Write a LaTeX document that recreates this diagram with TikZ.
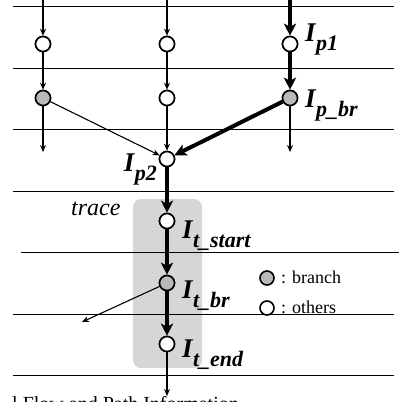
\documentclass[tikz,border=0pt]{standalone}
\usepackage{fontspec}
\setmainfont{Liberation Serif}
\usetikzlibrary{arrows.meta}
\newcommand{\lbl}[1]{{\fontsize{27}{27}\selectfont\bfseries\itshape I\kern0.3pt\raisebox{-9pt}{\fontsize{22}{22}\selectfont #1}}}
\begin{document}
\begin{tikzpicture}[x=1pt,y=-1pt,
  hline/.style={line width=0.9pt},
  pt/.style={circle,draw,line width=1.6pt,fill=white,minimum size=15pt,inner sep=0pt},
  br/.style={pt,fill=gray!55},
  thin/.style={line width=1.1pt,-{Stealth[length=7pt,width=6pt]}},
  thick/.style={line width=4pt,-{Stealth[length=12pt,width=12pt,inset=3pt]}},
  lab/.style={anchor=base west,inner sep=0pt},
  leg/.style={anchor=base west,inner sep=0pt,font=\fontsize{18}{18}\selectfont}]
\useasboundingbox (0,0) rectangle (399,402);
% gray trace box
\fill[gray!32,rounded corners=8pt] (133,199) rectangle (202,368);
% horizontal lines
\foreach \yy in {6,68,129,191,314,375} \draw[hline] (13,\yy) -- (394,\yy);
\draw[hline] (21,252) -- (399,252);
% coordinates at top/bottom
\coordinate (t1) at (43,0);
\coordinate (t2) at (167,0);
\coordinate (t3) at (290,0);
\coordinate (e1) at (43,152);
\coordinate (e3) at (290,152);
\coordinate (eb) at (82,322);
\coordinate (ee) at (167,396);
% nodes
\node[pt] (a1) at (43,44) {};
\node[br] (a2) at (43,98) {};
\node[pt] (b1) at (167,44) {};
\node[pt] (b2) at (167,98) {};
\node[pt] (p1) at (290,44) {};
\node[br] (pbr) at (290,98) {};
\node[pt] (p2) at (167,159) {};
\node[pt] (ts) at (167,221) {};
\node[br] (tb) at (167,283) {};
\node[pt] (te) at (167,344) {};
% thin connectors
\draw[thin] (t1) -- (a1);
\draw[thin] (a1) -- (a2);
\draw[thin] (a2) -- (e1);
\draw[thin] (a2) -- (p2);
\draw[thin] (t2) -- (b1);
\draw[thin] (b1) -- (b2);
\draw[thin] (b2) -- (p2);
\draw[thin] (pbr) -- (e3);
\draw[thin] (tb) -- (eb);
\draw[thin] (te) -- (ee);
% thick path
\draw[thick] (t3) -- (p1);
\draw[thick] (p1) -- (pbr);
\draw[thick] (pbr) -- (p2);
\draw[thick] (p2) -- (ts);
\draw[thick] (ts) -- (tb);
\draw[thick] (tb) -- (te);
% redraw nodes on top
\foreach \n in {p1,ts,te,b1,b2,a1}{\node[pt] at (\n) {};}
\foreach \n in {a2,pbr,tb}{\node[br] at (\n) {};}
\node[pt] at (p2) {};
% labels
\node[lab] (lp1) at (305,41) {\lbl{p1}};
\node[lab] (lpbr) at (305,107) {\lbl{p\_br}};
\node[anchor=base east,inner sep=0pt] (lp2) at (157,171) {\lbl{p2}};
\node[lab] (lts) at (182,238) {\lbl{t\_start}};
\node[lab] (ltb) at (182,298) {\lbl{t\_br}};
\node[lab] (lte) at (182,357) {\lbl{t\_end}};
\node[anchor=base west,inner sep=0pt,font=\fontsize{24}{24}\selectfont\itshape] (tr) at (71,215) {trace};
% legend
\node[br,minimum size=14pt] (lg1) at (267,278) {};
\node[pt,minimum size=14pt] (lg2) at (267,308) {};
\node[leg] (lt1) at (281,283) {: branch};
\node[leg] (lt2) at (281,313) {: others};
% cut caption
\node[anchor=base west,inner sep=0pt,font=\fontsize{20}{20}\selectfont] (cap) at (12,410) {l Flow and Path Information};
\end{tikzpicture}
\end{document}
